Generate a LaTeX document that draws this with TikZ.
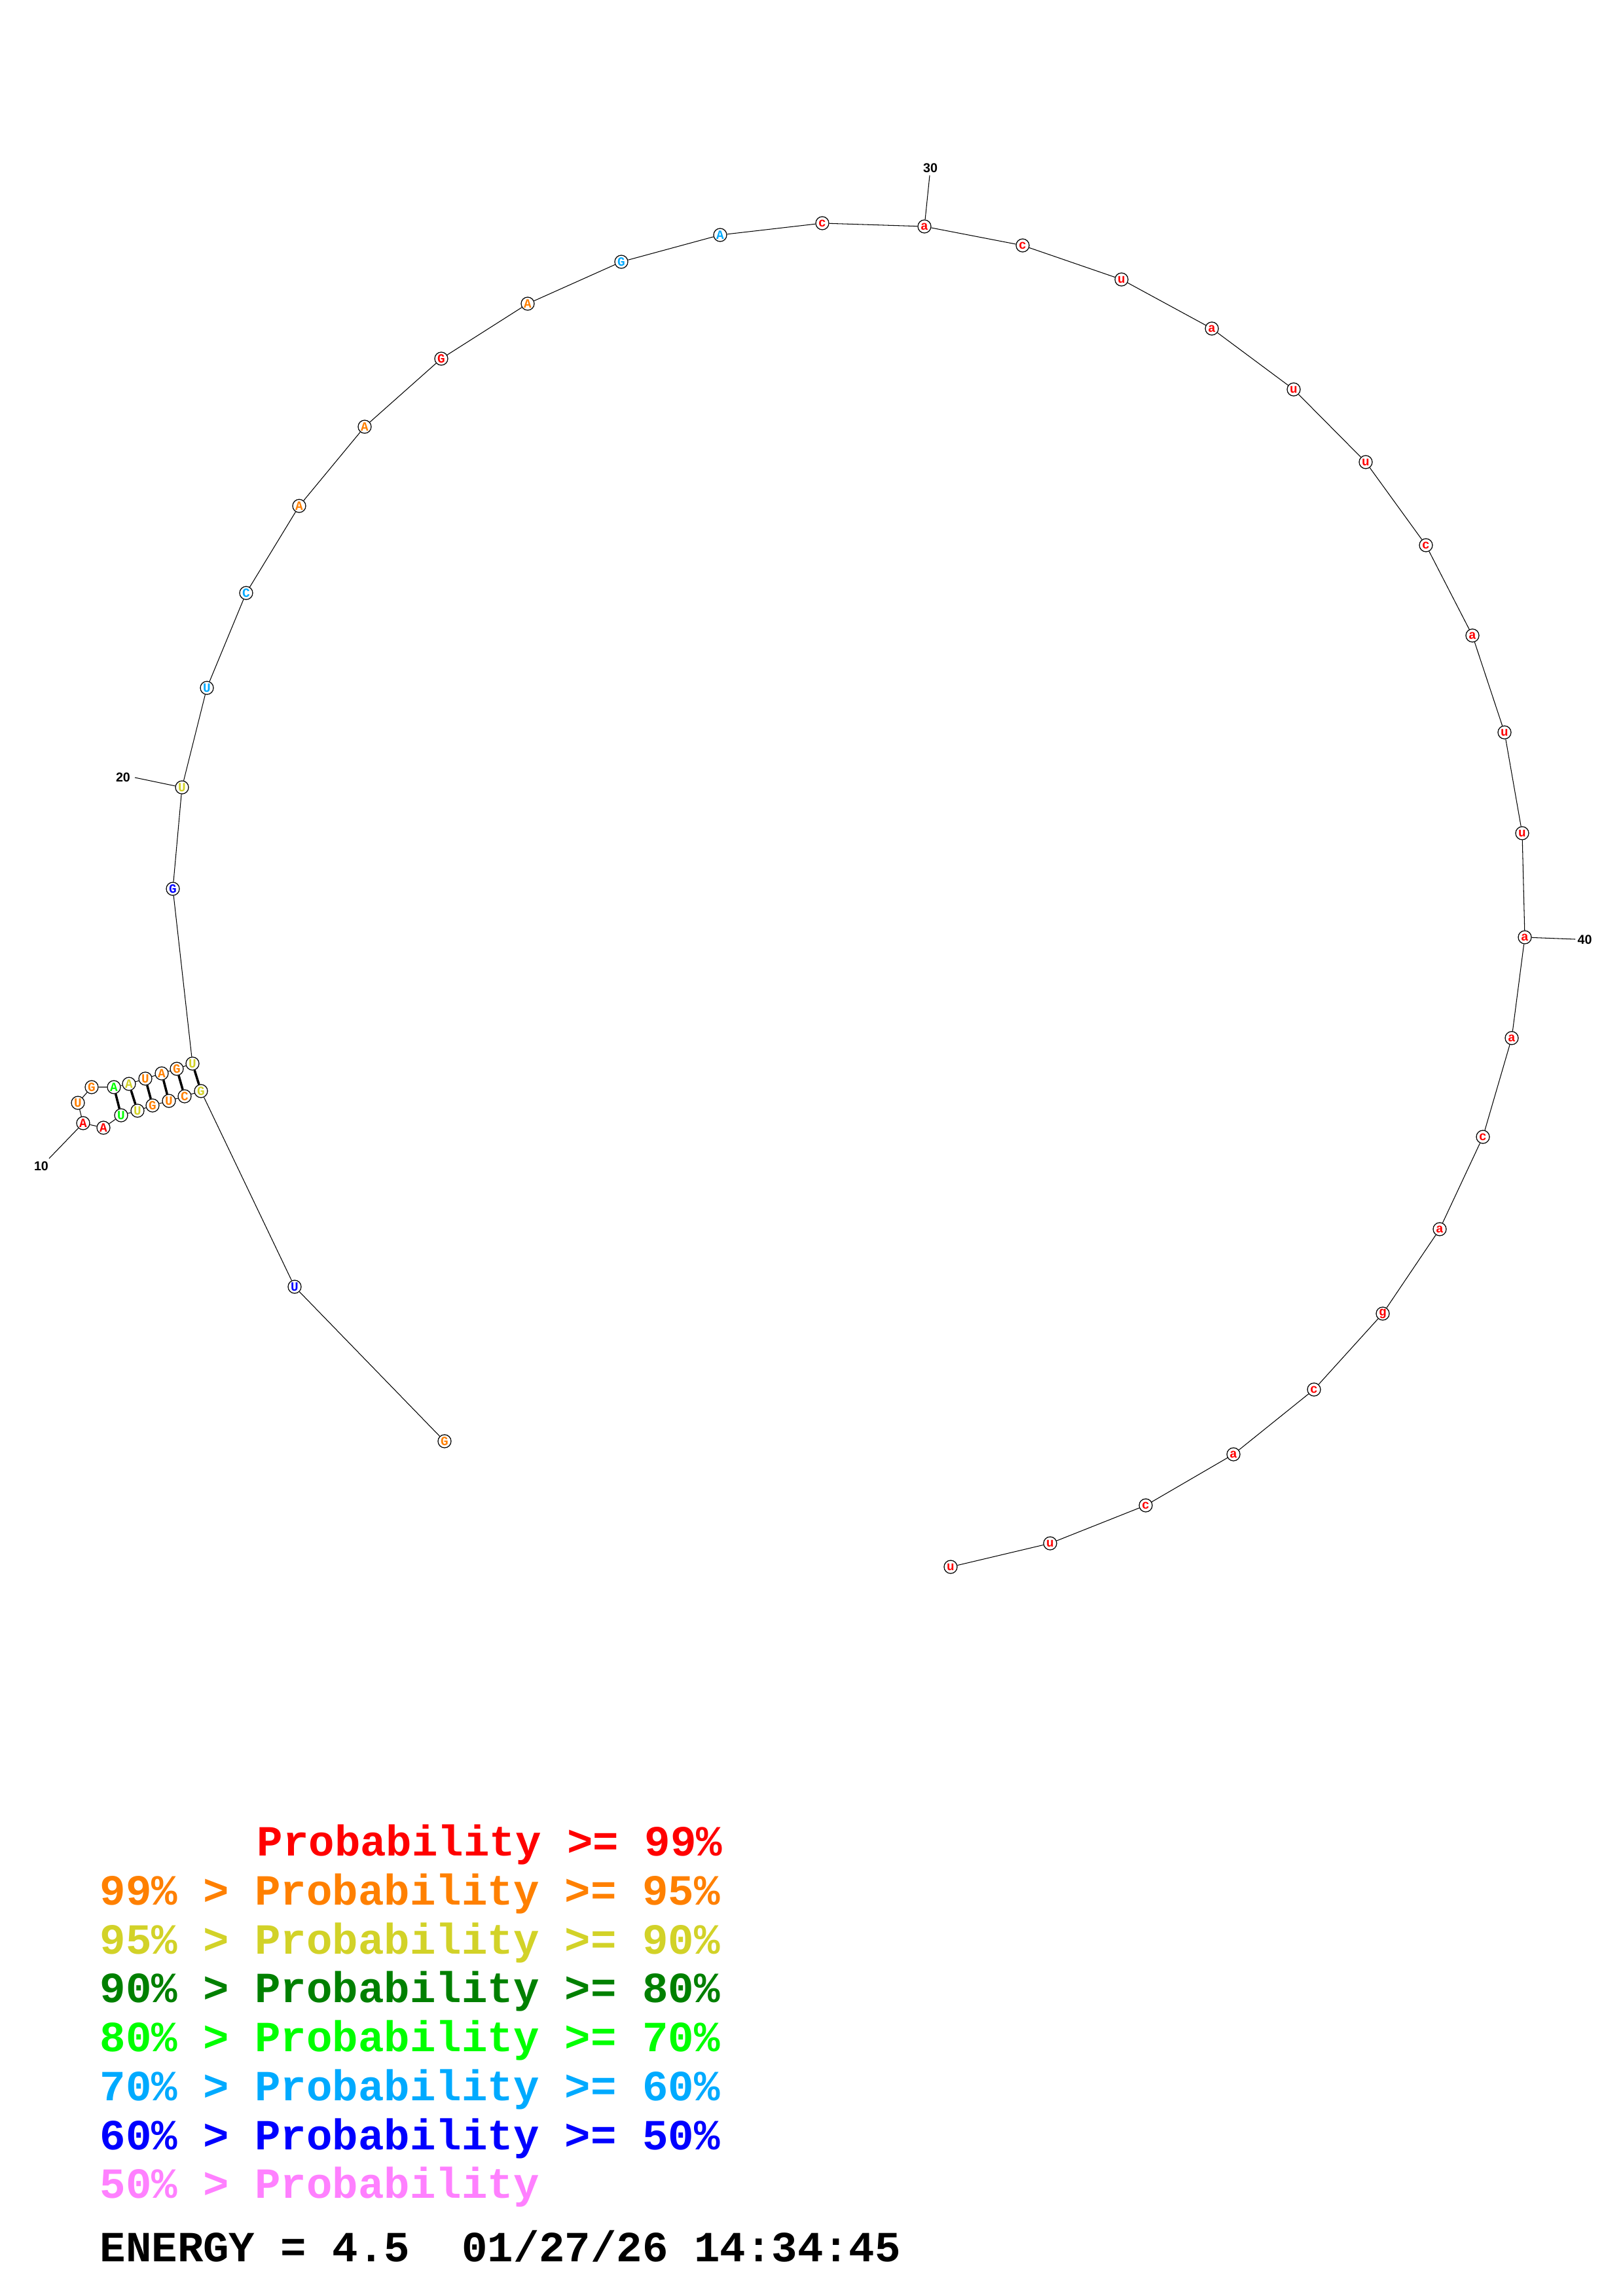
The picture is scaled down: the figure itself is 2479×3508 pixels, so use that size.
\documentclass[tikz,border=0pt]{standalone}
\usepackage{fontspec}
\usepackage{tikz}
\usetikzlibrary{positioning}
\newfontfamily\nucfont{Liberation Mono}
\newfontfamily\numfont{Liberation Sans}
\definecolor{pred}{RGB}{255,0,0}
\definecolor{porange}{RGB}{255,128,0}
\definecolor{pyellow}{RGB}{210,210,40}
\definecolor{pdkgreen}{RGB}{0,128,0}
\definecolor{pgreen}{RGB}{0,255,0}
\definecolor{pltblue}{RGB}{0,170,255}
\definecolor{pblue}{RGB}{0,0,255}
\definecolor{ppink}{RGB}{255,128,255}

\begin{document}
\begin{tikzpicture}[x=0.01cm,y=-0.01cm,
  nuc/.style={circle,draw=black,line width=0.35pt,fill=white,minimum size=0.2cm,inner sep=0pt,
    font=\nucfont\bfseries\fontsize{5.5}{5.5}\selectfont},
  backbone/.style={line width=0.3pt,black},
  pair/.style={line width=1pt,black},
  numlabel/.style={font=\numfont\bfseries\fontsize{5.6}{6}\selectfont,inner sep=0pt},
  legend/.style={anchor=base west,inner sep=0pt,font=\nucfont\bfseries\fontsize{18.7}{20}\selectfont}]
\useasboundingbox (0,0) rectangle (2479,3508);
% tail and stem
\node[nuc,text=porange] (n1) at (679,2202) {G};
\node[nuc,text=pblue] (n2) at (450,1966) {U};
\node[nuc,text=pyellow] (n3) at (307,1667) {G};
\node[nuc,text=porange] (n4) at (282,1675) {C};
\node[nuc,text=porange] (n5) at (258,1682) {U};
\node[nuc,text=porange] (n6) at (233,1689) {G};
\node[nuc,text=pyellow] (n7) at (210,1697) {U};
\node[nuc,text=pgreen] (n8) at (185,1704) {U};
\node[nuc,text=pred] (n9) at (158,1723) {A};
\node[nuc,text=pred] (n10) at (127,1716) {A};
\node[nuc,text=porange] (n11) at (119,1685) {U};
\node[nuc,text=porange] (n12) at (140,1661) {G};
\node[nuc,text=pgreen] (n13) at (174,1661) {A};
\node[nuc,text=pyellow] (n14) at (197,1656) {A};
\node[nuc,text=porange] (n15) at (222,1648) {U};
\node[nuc,text=porange] (n16) at (247,1640) {A};
\node[nuc,text=porange] (n17) at (270,1633) {G};
\node[nuc,text=pyellow] (n18) at (294,1625) {U};
% big loop
\node[nuc,text=pblue] (n19) at (264,1358) {G};
\node[nuc,text=pyellow] (n20) at (278,1203) {U};
\node[nuc,text=pltblue] (n21) at (316,1051) {U};
\node[nuc,text=pltblue] (n22) at (376,906) {C};
\node[nuc,text=porange] (n23) at (457,773) {A};
\node[nuc,text=porange] (n24) at (557,652) {A};
\node[nuc,text=pred] (n25) at (674,548) {G};
\node[nuc,text=porange] (n26) at (806,464) {A};
\node[nuc,text=pltblue] (n27) at (949,400) {G};
\node[nuc,text=pltblue] (n28) at (1100,359) {A};
\node[nuc,text=pred] (n29) at (1256,341) {c};
\node[nuc,text=pred] (n30) at (1412,346) {a};
\node[nuc,text=pred] (n31) at (1562,375) {c};
\node[nuc,text=pred] (n32) at (1713,427) {u};
\node[nuc,text=pred] (n33) at (1851,502) {a};
\node[nuc,text=pred] (n34) at (1976,595) {u};
\node[nuc,text=pred] (n35) at (2086,706) {u};
\node[nuc,text=pred] (n36) at (2178,833) {c};
\node[nuc,text=pred] (n37) at (2249,971) {a};
\node[nuc,text=pred] (n38) at (2298,1119) {u};
\node[nuc,text=pred] (n39) at (2325,1273) {u};
\node[nuc,text=pred] (n40) at (2329,1432) {a};
\node[nuc,text=pred] (n41) at (2309,1586) {a};
\node[nuc,text=pred] (n42) at (2265,1737) {c};
\node[nuc,text=pred] (n43) at (2199,1878) {a};
\node[nuc,text=pred] (n44) at (2112,2007) {g};
\node[nuc,text=pred] (n45) at (2007,2123) {c};
\node[nuc,text=pred] (n46) at (1884,2222) {a};
\node[nuc,text=pred] (n47) at (1750,2300) {c};
\node[nuc,text=pred] (n48) at (1604,2358) {u};
\node[nuc,text=pred] (n49) at (1452,2394) {u};
% chain
\draw[backbone] (n1) -- (n2) -- (n3) -- (n4) -- (n5) -- (n6) -- (n7) -- (n8) -- (n9) -- (n10)
  -- (n11) -- (n12) -- (n13) -- (n14) -- (n15) -- (n16) -- (n17) -- (n18) -- (n19) -- (n20)
  -- (n21) -- (n22) -- (n23) -- (n24) -- (n25) -- (n26) -- (n27) -- (n28) -- (n29) -- (n30)
  -- (n31) -- (n32) -- (n33) -- (n34) -- (n35) -- (n36) -- (n37) -- (n38) -- (n39) -- (n40)
  -- (n41) -- (n42) -- (n43) -- (n44) -- (n45) -- (n46) -- (n47) -- (n48) -- (n49);
\draw[pair] (n3) -- (n18);
\draw[pair] (n4) -- (n17);
\draw[pair] (n5) -- (n16);
\draw[pair] (n6) -- (n15);
\draw[pair] (n7) -- (n14);
\draw[pair] (n8) -- (n13);
% numbering
\coordinate (t10) at (75,1770);
\coordinate (t20) at (206,1188);
\coordinate (t30) at (1420,268);
\coordinate (t40) at (2406,1435);
\draw[backbone] (n10) -- (t10);
\draw[backbone] (n20) -- (t20);
\draw[backbone] (n30) -- (t30);
\draw[backbone] (n40) -- (t40);
\node[numlabel] (l10) at (63,1782) {10};
\node[numlabel] (l20) at (188,1188) {20};
\node[numlabel] (l30) at (1421,257) {30};
\node[numlabel,anchor=west] (l40) at (2409,1436) {40};
% legend
\node[legend,text=pred] (p1) at (392,2835) {Probability >= 99\%};
\node[legend,text=porange] (p2) at (152,2910) {99\% > Probability >= 95\%};
\node[legend,text=pyellow] (p3) at (152,2985) {95\% > Probability >= 90\%};
\node[legend,text=pdkgreen] (p4) at (152,3059) {90\% > Probability >= 80\%};
\node[legend,text=pgreen] (p5) at (152,3134) {80\% > Probability >= 70\%};
\node[legend,text=pltblue] (p6) at (152,3209) {70\% > Probability >= 60\%};
\node[legend,text=pblue] (p7) at (152,3284) {60\% > Probability >= 50\%};
\node[legend,text=ppink] (p8) at (152,3358) {50\% > Probability};
\node[legend,text=black] (energy) at (152,3455) {ENERGY = 4.5\ \ 01/27/26 14:34:45};
\end{tikzpicture}
\end{document}
